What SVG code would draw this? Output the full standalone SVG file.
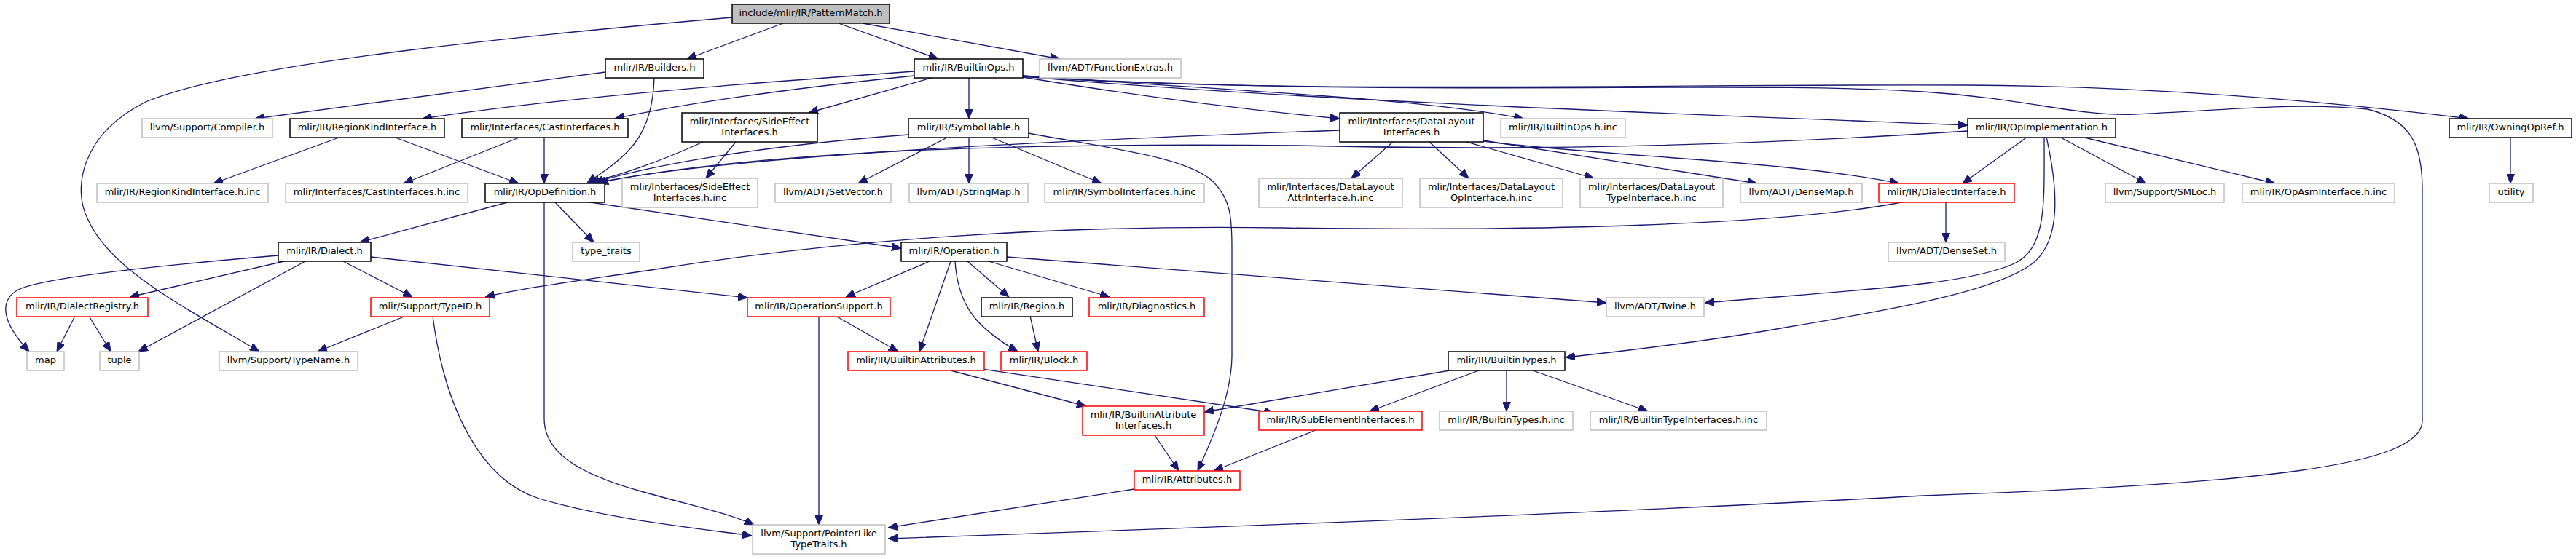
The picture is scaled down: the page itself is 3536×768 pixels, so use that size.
<svg xmlns="http://www.w3.org/2000/svg" width="3536" height="768" viewBox="0 0 3536 768">
<style>
.n rect{fill:#fff;stroke-width:1.5}
.b rect{stroke:#000}
.g rect{stroke:#bfbfbf}
.r rect{stroke:#ff0000}
.root rect{fill:#bfbfbf;stroke:#000}
text{font-family:"DejaVu Sans","Liberation Sans",sans-serif;font-size:13px;fill:#000;text-anchor:middle}
#edges path{fill:none;stroke:#191970;stroke-width:1.3;marker-end:url(#ah)}
</style>
<defs>
<marker id="ah" markerUnits="userSpaceOnUse" markerWidth="13" markerHeight="11" refX="13" refY="5.5" orient="auto">
<path d="M0,0 L13,5.5 L0,11 z" fill="#191970" stroke="#191970" stroke-width="1"/>
</marker>
</defs>
<rect width="3536" height="768" fill="#fff"/>
<g id="edges">
<path d="M1075,32 L943,81"/>
<path d="M1151,32 L1288,81"/>
<path d="M1184,32 L1455,81"/>
<path d="M1005,24 C760,45 330,85 200,140 C110,185 100,260 120,300 C150,370 250,420 356,483"/>
<path d="M831,99 L350,163"/>
<path d="M898,106 C896,190 860,215 806,251"/>
<path d="M1255,98 C1050,113 800,130 580,163"/>
<path d="M1255,104 C1100,120 950,140 844,163"/>
<path d="M1282,106 L1110,155"/>
<path d="M1330,106 L1330,163"/>
<path d="M1404,106 C1550,130 1700,150 1839,163"/>
<path d="M1404,104 C1700,125 1950,135 2091,163"/>
<path d="M1404,105 C1800,140 2400,160 2701,172"/>
<path d="M1404,104 C1700,130 2300,115 2700,117 C2950,118 3200,140 3389,163"/>
<path d="M1404,105 C1900,135 2400,110 2640,126 C2780,135 2850,160 2930,157 C3050,152 3150,140 3250,150 C3310,165 3325,200 3325,260 L3325,578 C3325,640 3100,665 2640,681 C2300,700 1800,720 1219,740"/>
<path d="M1247,185 C1050,200 900,225 815,251"/>
<path d="M1302,188 L1178,252"/>
<path d="M1330,188 L1330,252"/>
<path d="M1359,188 L1512,252"/>
<path d="M1412,183 C1530,205 1620,215 1660,245 C1690,270 1691,300 1691,340 L1691,490 C1690,540 1670,590 1644,647"/>
<path d="M965,195 C900,225 850,240 810,251"/>
<path d="M1010,195 L969,245"/>
<path d="M1839,179 C1400,195 1000,215 818,251"/>
<path d="M1912,195 L1855,245"/>
<path d="M1962,195 L2016,245"/>
<path d="M2013,195 L2188,245"/>
<path d="M2036,193 L2412,252"/>
<path d="M2036,194 C2200,215 2450,220 2607,252"/>
<path d="M2701,180 C2400,200 2100,208 1780,200 C1300,195 1000,215 822,251"/>
<path d="M2783,188 L2694,252"/>
<path d="M2806,188 C2806,280 2810,340 2765,362 C2700,392 2550,398 2340,416"/>
<path d="M2809,188 C2825,260 2830,330 2790,362 C2740,400 2600,425 2450,450 C2350,468 2250,480 2149,491"/>
<path d="M2827,188 L2946,252"/>
<path d="M2857,188 L3123,252"/>
<path d="M3446,188 L3446,252"/>
<path d="M2671,277 L2671,333"/>
<path d="M2615,277 C2450,310 2100,318 1760,313 C1450,308 1150,330 900,370 C800,385 720,395 666,408"/>
<path d="M700,277 L494,333"/>
<path d="M761,277 L815,333"/>
<path d="M804,277 L1237,341"/>
<path d="M747,277 L747,575 C747,620 790,650 880,675 C950,695 1000,705 1035,721"/>
<path d="M382,351 C250,362 60,380 25,398 C0,412 0,440 40,483"/>
<path d="M390,359 L178,408"/>
<path d="M419,359 L190,483"/>
<path d="M471,359 L566,408"/>
<path d="M509,353 L1026,409"/>
<path d="M103,434 L78,483"/>
<path d="M122,434 L152,483"/>
<path d="M557,434 L436,483"/>
<path d="M594,434 C610,560 660,660 740,685 C830,712 950,725 1032,736"/>
<path d="M1276,359 L1161,408"/>
<path d="M1305,359 L1262,483"/>
<path d="M1311,359 C1315,420 1340,450 1397,483"/>
<path d="M1328,359 L1385,408"/>
<path d="M1357,359 L1523,408"/>
<path d="M1382,353 C1700,375 2000,400 2205,416"/>
<path d="M1147,434 L1233,483"/>
<path d="M1124,434 L1124,721"/>
<path d="M1414,434 L1425,483"/>
<path d="M1305,509 L1491,558"/>
<path d="M1348,507 L1748,567"/>
<path d="M1990,509 L1653,566"/>
<path d="M2030,509 L1880,565"/>
<path d="M2068,509 L2068,565"/>
<path d="M2104,509 L2262,565"/>
<path d="M1585,598 L1618,647"/>
<path d="M1806,591 L1666,647"/>
<path d="M1557,672 L1219,725"/>
<path d="M468,188 L293,252"/>
<path d="M540,188 L712,252"/>
<path d="M715,188 L554,252"/>
<path d="M747,188 L747,252"/>
</g>
<g id="n_patternmatch" class="n root"><rect x="1005" y="6" width="216" height="26"/><text x="1113" y="22">include/mlir/IR/PatternMatch.h</text></g>
<g id="n_builders" class="n b"><rect x="831" y="81" width="135" height="26"/><text x="898.5" y="97">mlir/IR/Builders.h</text></g>
<g id="n_builtinops" class="n b"><rect x="1255" y="81" width="149" height="26"/><text x="1329.5" y="97">mlir/IR/BuiltinOps.h</text></g>
<g id="n_functionextras" class="n g"><rect x="1427" y="81" width="194" height="26"/><text x="1524" y="97">llvm/ADT/FunctionExtras.h</text></g>
<g id="n_compiler" class="n g"><rect x="195" y="163" width="179" height="26"/><text x="284.5" y="179">llvm/Support/Compiler.h</text></g>
<g id="n_regionkind" class="n b"><rect x="398" y="163" width="212" height="26"/><text x="504" y="179">mlir/IR/RegionKindInterface.h</text></g>
<g id="n_castinterfaces" class="n b"><rect x="634" y="163" width="228" height="26"/><text x="748" y="179">mlir/Interfaces/CastInterfaces.h</text></g>
<g id="n_sideeffect" class="n b"><rect x="936" y="155" width="186" height="40"/><text x="1029" y="171">mlir/Interfaces/SideEffect</text><text x="1029" y="186">Interfaces.h</text></g>
<g id="n_symboltable" class="n b"><rect x="1247" y="163" width="165" height="26"/><text x="1329.5" y="179">mlir/IR/SymbolTable.h</text></g>
<g id="n_datalayout" class="n b"><rect x="1839" y="155" width="197" height="40"/><text x="1937.5" y="171">mlir/Interfaces/DataLayout</text><text x="1937.5" y="186">Interfaces.h</text></g>
<g id="n_builtinopsinc" class="n g"><rect x="2060" y="163" width="171" height="26"/><text x="2145.5" y="179">mlir/IR/BuiltinOps.h.inc</text></g>
<g id="n_opimpl" class="n b"><rect x="2701" y="163" width="203" height="26"/><text x="2802.5" y="179">mlir/IR/OpImplementation.h</text></g>
<g id="n_owningopref" class="n b"><rect x="3362" y="163" width="168" height="26"/><text x="3446" y="179">mlir/IR/OwningOpRef.h</text></g>
<g id="n_regionkindinc" class="n g"><rect x="133" y="252" width="235" height="26"/><text x="250.5" y="268">mlir/IR/RegionKindInterface.h.inc</text></g>
<g id="n_castinc" class="n g"><rect x="392" y="252" width="250" height="26"/><text x="517" y="268">mlir/Interfaces/CastInterfaces.h.inc</text></g>
<g id="n_opdefinition" class="n b"><rect x="666" y="252" width="164" height="26"/><text x="748" y="268">mlir/IR/OpDefinition.h</text></g>
<g id="n_sideeffectinc" class="n g"><rect x="854" y="245" width="186" height="40"/><text x="947" y="261">mlir/Interfaces/SideEffect</text><text x="947" y="276">Interfaces.h.inc</text></g>
<g id="n_setvector" class="n g"><rect x="1064" y="252" width="159" height="26"/><text x="1143.5" y="268">llvm/ADT/SetVector.h</text></g>
<g id="n_stringmap" class="n g"><rect x="1248" y="252" width="163" height="26"/><text x="1329.5" y="268">llvm/ADT/StringMap.h</text></g>
<g id="n_symbolinc" class="n g"><rect x="1434" y="252" width="219" height="26"/><text x="1543.5" y="268">mlir/IR/SymbolInterfaces.h.inc</text></g>
<g id="n_dlattr" class="n g"><rect x="1728" y="245" width="197" height="40"/><text x="1826.5" y="261">mlir/Interfaces/DataLayout</text><text x="1826.5" y="276">AttrInterface.h.inc</text></g>
<g id="n_dlop" class="n g"><rect x="1949" y="245" width="196" height="40"/><text x="2047" y="261">mlir/Interfaces/DataLayout</text><text x="2047" y="276">OpInterface.h.inc</text></g>
<g id="n_dltype" class="n g"><rect x="2169" y="245" width="196" height="40"/><text x="2267" y="261">mlir/Interfaces/DataLayout</text><text x="2267" y="276">TypeInterface.h.inc</text></g>
<g id="n_densemap" class="n g"><rect x="2389" y="252" width="167" height="26"/><text x="2472.5" y="268">llvm/ADT/DenseMap.h</text></g>
<g id="n_dialectinterface" class="n r"><rect x="2579" y="252" width="186" height="26"/><text x="2672" y="268">mlir/IR/DialectInterface.h</text></g>
<g id="n_smloc" class="n g"><rect x="2890" y="252" width="163" height="26"/><text x="2971.5" y="268">llvm/Support/SMLoc.h</text></g>
<g id="n_opasminc" class="n g"><rect x="3078" y="252" width="209" height="26"/><text x="3182.5" y="268">mlir/IR/OpAsmInterface.h.inc</text></g>
<g id="n_utility" class="n g"><rect x="3417" y="252" width="60" height="26"/><text x="3447" y="268">utility</text></g>
<g id="n_dialect" class="n b"><rect x="382" y="333" width="127" height="26"/><text x="445.5" y="349">mlir/IR/Dialect.h</text></g>
<g id="n_typetraits" class="n g"><rect x="786" y="333" width="92" height="26"/><text x="832" y="349">type_traits</text></g>
<g id="n_operation" class="n b"><rect x="1237" y="333" width="145" height="26"/><text x="1309.5" y="349">mlir/IR/Operation.h</text></g>
<g id="n_denseset" class="n g"><rect x="2592" y="333" width="160" height="26"/><text x="2672" y="349">llvm/ADT/DenseSet.h</text></g>
<g id="n_dialectregistry" class="n r"><rect x="23" y="409" width="180" height="26"/><text x="113" y="425">mlir/IR/DialectRegistry.h</text></g>
<g id="n_typeid" class="n r"><rect x="509" y="409" width="163" height="26"/><text x="590.5" y="425">mlir/Support/TypeID.h</text></g>
<g id="n_opsupport" class="n r"><rect x="1026" y="409" width="196" height="26"/><text x="1124" y="425">mlir/IR/OperationSupport.h</text></g>
<g id="n_region" class="n b"><rect x="1347" y="409" width="125" height="26"/><text x="1409.5" y="425">mlir/IR/Region.h</text></g>
<g id="n_diagnostics" class="n r"><rect x="1495" y="409" width="158" height="26"/><text x="1574" y="425">mlir/IR/Diagnostics.h</text></g>
<g id="n_twine" class="n g"><rect x="2205" y="409" width="134" height="26"/><text x="2272" y="425">llvm/ADT/Twine.h</text></g>
<g id="n_map" class="n g"><rect x="37" y="483" width="51" height="26"/><text x="62.5" y="499">map</text></g>
<g id="n_tuple" class="n g"><rect x="137" y="483" width="54" height="26"/><text x="164" y="499">tuple</text></g>
<g id="n_typename" class="n g"><rect x="301" y="483" width="190" height="26"/><text x="396" y="499">llvm/Support/TypeName.h</text></g>
<g id="n_builtinattrs" class="n r"><rect x="1164" y="483" width="187" height="26"/><text x="1257.5" y="499">mlir/IR/BuiltinAttributes.h</text></g>
<g id="n_block" class="n r"><rect x="1374" y="483" width="118" height="26"/><text x="1433" y="499">mlir/IR/Block.h</text></g>
<g id="n_builtintypes" class="n b"><rect x="1988" y="483" width="160" height="26"/><text x="2068" y="499">mlir/IR/BuiltinTypes.h</text></g>
<g id="n_builtinattrifaces" class="n r"><rect x="1486" y="558" width="167" height="40"/><text x="1569.5" y="574">mlir/IR/BuiltinAttribute</text><text x="1569.5" y="589">Interfaces.h</text></g>
<g id="n_subelement" class="n r"><rect x="1728" y="565" width="224" height="26"/><text x="1840" y="581">mlir/IR/SubElementInterfaces.h</text></g>
<g id="n_builtintypesinc" class="n g"><rect x="1976" y="565" width="183" height="26"/><text x="2067.5" y="581">mlir/IR/BuiltinTypes.h.inc</text></g>
<g id="n_builtintypeifacesinc" class="n g"><rect x="2183" y="565" width="242" height="26"/><text x="2304" y="581">mlir/IR/BuiltinTypeInterfaces.h.inc</text></g>
<g id="n_attributes" class="n r"><rect x="1557" y="647" width="145" height="26"/><text x="1629.5" y="663">mlir/IR/Attributes.h</text></g>
<g id="n_pointerlike" class="n g"><rect x="1033" y="721" width="182" height="40"/><text x="1124" y="737">llvm/Support/PointerLike</text><text x="1124" y="752">TypeTraits.h</text></g>
</svg>
